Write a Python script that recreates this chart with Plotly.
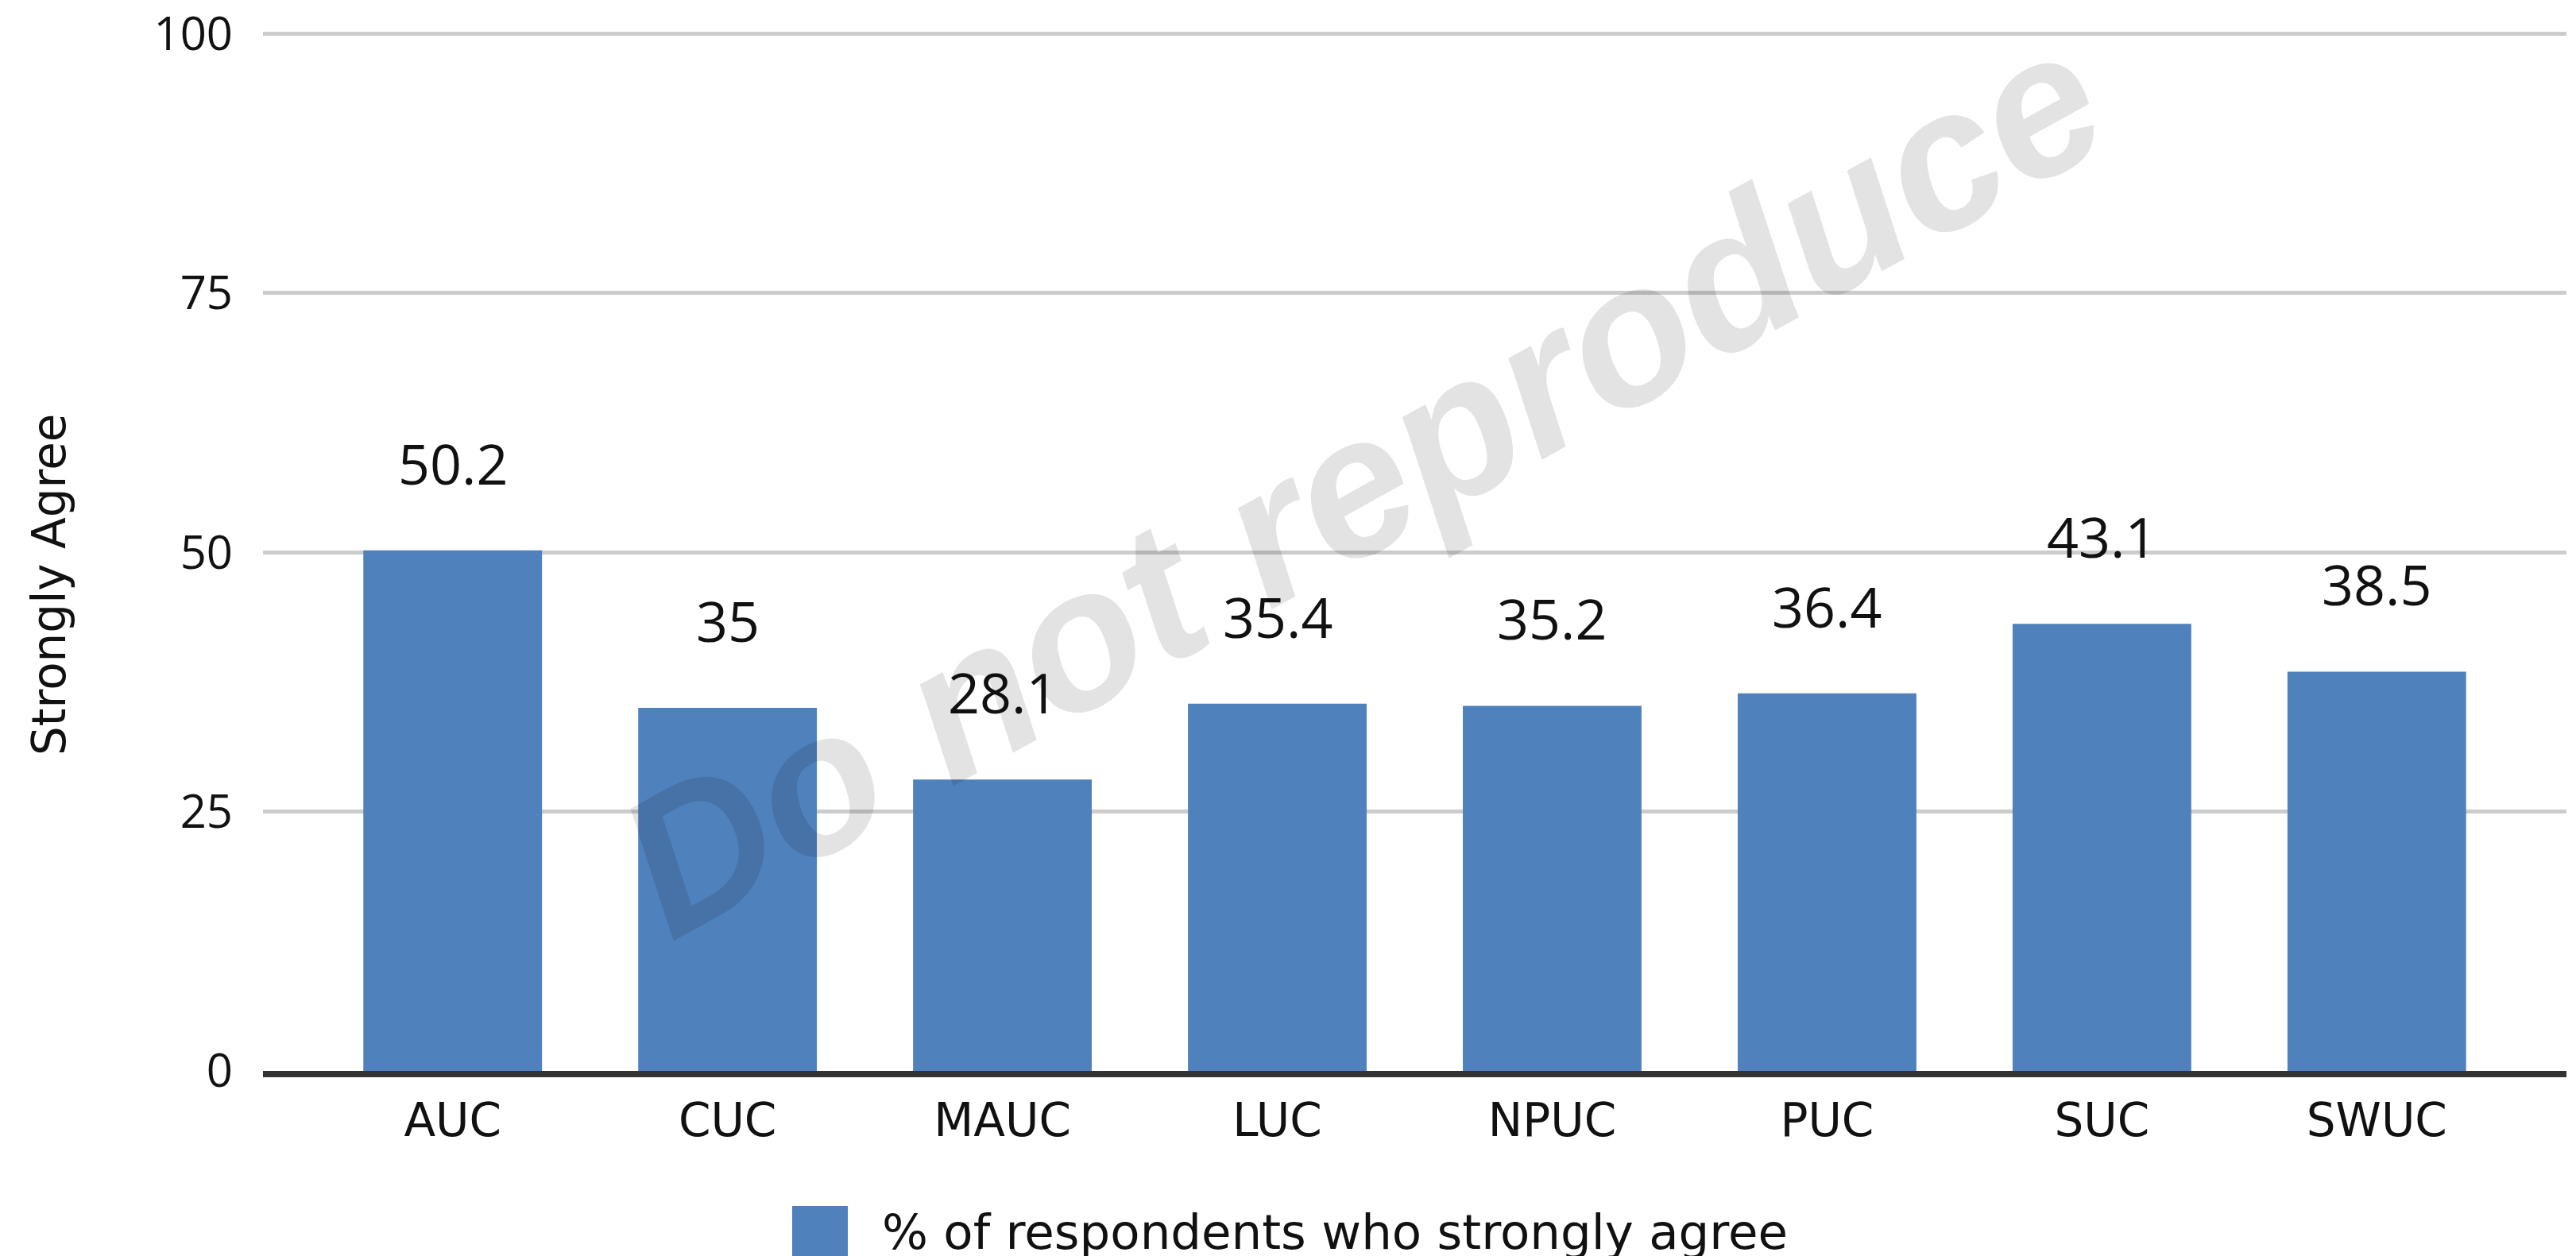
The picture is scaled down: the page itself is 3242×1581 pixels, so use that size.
import plotly.graph_objects as go

categories = ["AUC", "CUC", "MAUC", "LUC", "NPUC", "PUC", "SUC", "SWUC"]
values = [50.2, 35, 28.1, 35.4, 35.2, 36.4, 43.1, 38.5]
value_labels = ["50.2", "35", "28.1", "35.4", "35.2", "36.4", "43.1", "38.5"]
y_ticks = [0, 25, 50, 75, 100]
series_name = "% of respondents who strongly agree"
y_title = "Strongly Agree"
watermark = "Do not reproduce"

BAR = "#4f81bd"
W, H = 3242, 1581
OFF = 8  # page body margin
# plot area in screen pixels
PX0, PX1, PY0, PY1 = 331, 3230, 36, 1348
YMAX = 100.5
ML = PX0 - OFF
MR = (W + OFF) - PX1
MT = PY0 - OFF
MB = (H + OFF) - PY1
pw = PX1 - PX0
ph = PY1 - PY0


def px(x):
    return (x - PX0) / pw


def py(y):
    return (PY1 - y) / ph


fig = go.Figure()
fig.add_trace(go.Bar(
    x=categories, y=values, marker=dict(color=BAR, line=dict(width=0)),
    width=0.65, name=series_name, showlegend=False,
))

for c, v, t in zip(categories, values, value_labels):
    fig.add_annotation(x=c, y=v, text=t, showarrow=False, yanchor="middle",
                       yshift=110, font=dict(family="Open Sans", size=70, color="#111"))

# y axis title
fig.add_annotation(xref="paper", yref="paper", x=px(62), y=py(736), text=y_title,
                   textangle=-90, showarrow=False, xanchor="center", yanchor="middle",
                   font=dict(family="DejaVu Sans", size=58, color="#111"))

# watermark
fig.add_annotation(xref="paper", yref="paper", x=px(1712), y=py(606),
                   text="<b><i>" + watermark + "</i></b>",
                   textangle=-29, showarrow=False, xanchor="center", yanchor="middle",
                   font=dict(family="Liberation Sans", size=250, color="rgba(0,0,0,0.11)"))

# custom legend
fig.add_shape(type="rect", xref="paper", yref="paper",
              x0=px(997), x1=px(1067), y0=py(1600), y1=py(1518),
              fillcolor=BAR, line=dict(width=0))
fig.add_annotation(xref="paper", yref="paper", x=px(1108), y=py(1550),
                   text=series_name, showarrow=False, xanchor="left", yanchor="middle",
                   font=dict(family="DejaVu Sans", size=61, color="#111"))

fig.update_layout(
    width=W, height=H, margin=dict(l=ML, r=MR, t=MT, b=MB, autoexpand=False),
    paper_bgcolor="white", plot_bgcolor="white",
    bargap=0.35, showlegend=False,
    xaxis=dict(range=[-0.69, 7.69], showgrid=False, showline=True, linecolor="#333333",
               linewidth=8, ticks="", ticklabelstandoff=4, automargin=False,
               tickfont=dict(family="DejaVu Sans", size=58, color="#111")),
    yaxis=dict(range=[0, YMAX], tickvals=y_ticks, showgrid=True, gridcolor="#cccccc",
               gridwidth=5, zeroline=False, showline=False, ticks="", automargin=False,
               ticklabelstandoff=37, ticklabeloverflow="allow",
               tickfont=dict(family="Open Sans", size=58, color="#111")),
)

fig.write_html("out.html")
